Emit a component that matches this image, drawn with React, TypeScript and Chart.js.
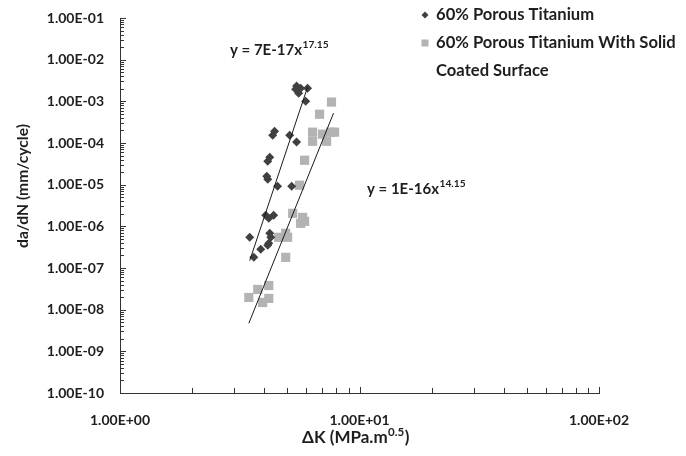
import React, { useEffect, useRef } from "react";
import { Chart, registerables } from "chart.js";

Chart.register(...registerables);

// ---- data ----
const darkX = [5.41, 5.57, 5.68, 5.46, 6.07, 5.96, 4.42, 4.34, 5.11, 5.46, 4.22, 4.14, 4.10, 4.14, 4.55, 5.21, 4.06, 4.18, 4.38, 3.48, 4.22, 4.26, 4.18, 4.14, 3.87, 3.62];
const darkY = [1.96e-3, 1.57e-3, 2.07e-3, 2.32e-3, 2.07e-3, 1.01e-3, 1.92e-4, 1.54e-4, 1.54e-4, 1.05e-4, 4.56e-5, 3.65e-5, 1.59e-5, 1.35e-5, 9.2e-6, 9.2e-6, 1.84e-6, 1.56e-6, 1.84e-6, 5.45e-7, 6.8e-7, 5.45e-7, 3.9e-7, 3.5e-7, 2.8e-7, 1.8e-7];

const lightX = [7.64, 6.81, 6.37, 6.37, 7.01, 7.57, 7.87, 7.29, 5.90, 5.62, 5.26, 5.79, 5.90, 5.68, 4.60, 4.92, 5.01, 4.92, 4.18, 3.76, 3.45, 3.94, 4.18];
const lightY = [9.6e-4, 4.9e-4, 1.82e-4, 1.1e-4, 1.63e-4, 1.82e-4, 1.82e-4, 1.1e-4, 3.86e-5, 9.7e-6, 2.05e-6, 1.64e-6, 1.32e-6, 1.18e-6, 5.45e-7, 6.8e-7, 5.45e-7, 1.8e-7, 3.8e-8, 3.06e-8, 1.96e-8, 1.49e-8, 1.86e-8];

const darkTrendX = [3.48, 6.07];
const darkTrendY = [1.5e-7, 2.2e-3];
const lightTrendX = [3.45, 7.79];
const lightTrendY = [4.7e-9, 5.2e-4];

const xTickValues = [1, 10, 100];
const xTickLabels = ["1.00E+00", "1.00E+01", "1.00E+02"];
const yTickValues = [1e-10, 1e-9, 1e-8, 1e-7, 1e-6, 1e-5, 1e-4, 1e-3, 1e-2, 1e-1];
const yTickLabels = ["1.00E-10", "1.00E-09", "1.00E-08", "1.00E-07", "1.00E-06", "1.00E-05", "1.00E-04", "1.00E-03", "1.00E-02", "1.00E-01"];

const seriesNames = ["60% Porous Titanium", "60% Porous Titanium With Solid", "Coated Surface"];
const darkEq = ["y = 7E-17x", "17.15"];
const lightEq = ["y = 1E-16x", "14.15"];
const xTitle = ["ΔK (MPa.m", "0.5", ")"];
const yTitle = "da/dN (mm/cycle)";

const DARK = "#404040";
const LIGHT = "#b3b3b3";
const TEXT = "#1e1e1e";
const FONT = "Lato, 'Open Sans', sans-serif";

const zip = (xs: number[], ys: number[]) => xs.map((x, i) => ({ x, y: ys[i] }));

const decorPlugin = {
  id: "decor",
  afterDraw(chart: any) {
    const ctx = chart.ctx as CanvasRenderingContext2D;
    const xs = chart.scales.x;
    const ys = chart.scales.y;
    const { left, bottom } = chart.chartArea;
    ctx.save();
    ctx.strokeStyle = "#333";
    ctx.lineWidth = 1;
    // x inside ticks
    for (let d = 1; d <= 10; d *= 10) {
      for (let m = 2; m <= 10; m++) {
        const px = Math.round(xs.getPixelForValue(m * d)) + 0.5;
        const len = m === 10 ? 6 : 5;
        ctx.beginPath();
        ctx.moveTo(px, bottom);
        ctx.lineTo(px, bottom - len);
        ctx.stroke();
      }
    }
    // y inside ticks
    for (let e = -10; e < -1; e++) {
      const d = Math.pow(10, e);
      for (let m = 2; m <= 10; m++) {
        const py = Math.round(ys.getPixelForValue(m * d)) + 0.5;
        const len = m === 10 ? 6 : 4;
        ctx.beginPath();
        ctx.moveTo(left, py);
        ctx.lineTo(left + len, py);
        ctx.stroke();
      }
    }

    ctx.fillStyle = TEXT;
    ctx.textBaseline = "middle";
    ctx.textAlign = "left";
    const measureSup = (parts: string[], size: number) => {
      ctx.font = `bold ${size}px ${FONT}`;
      const a = ctx.measureText(parts[0]).width + (parts[2] ? ctx.measureText(parts[2]).width : 0);
      ctx.font = `bold ${size * 0.68}px ${FONT}`;
      return a + ctx.measureText(parts[1]).width + 1.5;
    };
    const fitSup = (parts: string[], target: number) => target / measureSup(parts, 100) * 100;
    const drawSup = (parts: string[], x: number, y: number, size: number) => {
      ctx.font = `bold ${size}px ${FONT}`;
      ctx.fillText(parts[0], x, y);
      const w = ctx.measureText(parts[0]).width;
      ctx.font = `bold ${size * 0.68}px ${FONT}`;
      ctx.fillText(parts[1], x + w + 0.5, y - size * 0.32);
      const w2 = ctx.measureText(parts[1]).width;
      if (parts[2]) {
        ctx.font = `bold ${size}px ${FONT}`;
        ctx.fillText(parts[2], x + w + w2 + 1, y);
      }
    };
    // equations (sized to span the width they take in the reference)
    const eqSize = Math.min(15, fitSup(darkEq, 102));
    drawSup(darkEq, 230, 50, eqSize);
    drawSup(lightEq, 367, 189, eqSize);

    // x title centred
    const xs2 = Math.min(17, fitSup(xTitle, 118));
    const tw = measureSup(xTitle, xs2);
    drawSup(xTitle, 356 - tw / 2, 438, xs2);

    // y title
    ctx.save();
    ctx.translate(23, 186);
    ctx.rotate(-Math.PI / 2);
    ctx.textAlign = "center";
    ctx.font = `bold 100px ${FONT}`;
    const ySize = Math.min(16, 124 / ctx.measureText(yTitle).width * 100);
    ctx.font = `bold ${ySize}px ${FONT}`;
    ctx.fillText(yTitle, 0, 0);
    ctx.restore();

    // legend
    ctx.fillStyle = DARK;
    ctx.beginPath();
    ctx.moveTo(425, 11.5);
    ctx.lineTo(428.5, 15);
    ctx.lineTo(425, 18.5);
    ctx.lineTo(421.5, 15);
    ctx.closePath();
    ctx.fill();
    ctx.fillStyle = LIGHT;
    ctx.fillRect(421.5, 39.5, 7, 7);
    ctx.fillStyle = TEXT;
    ctx.font = `bold 100px ${FONT}`;
    const lSize = Math.min(17, 240 / ctx.measureText(seriesNames[1]).width * 100);
    ctx.font = `bold ${lSize}px ${FONT}`;
    ctx.fillText(seriesNames[0], 436, 15);
    ctx.fillText(seriesNames[1], 436, 43);
    ctx.fillText(seriesNames[2], 436, 71);
    ctx.restore();
  },
};

export default function App() {
  const ref = useRef<HTMLCanvasElement | null>(null);
  useEffect(() => {
    document.body.style.margin = "0";
    const canvas = ref.current!;
    const chart = new Chart(canvas, {
      type: "scatter",
      data: {
        datasets: [
          {
            type: "line",
            data: zip(darkTrendX, darkTrendY),
            borderColor: "#1a1a1a",
            borderWidth: 1,
            pointRadius: 0,
            fill: false,
          } as any,
          {
            type: "line",
            data: zip(lightTrendX, lightTrendY),
            borderColor: "#1a1a1a",
            borderWidth: 1,
            pointRadius: 0,
            fill: false,
          } as any,
          {
            label: seriesNames[0],
            data: zip(darkX, darkY),
            pointStyle: "rectRot",
            pointRadius: 4.5,
            backgroundColor: DARK,
            borderColor: DARK,
            borderWidth: 0,
          },
          {
            label: seriesNames[1] + " " + seriesNames[2],
            data: zip(lightX, lightY),
            pointStyle: "rect",
            pointRadius: 6.5,
            backgroundColor: LIGHT,
            borderColor: LIGHT,
            borderWidth: 0,
          },
        ],
      },
      options: {
        animation: false,
        responsive: true,
        maintainAspectRatio: false,
        events: [],
        layout: { padding: { left: 0, right: 87, top: 18, bottom: 0 } },
        plugins: { legend: { display: false }, tooltip: { enabled: false } },
        scales: {
          x: {
            type: "logarithmic",
            min: 1,
            max: 100,
            grid: { display: false },
            border: { display: true, color: "#333", width: 1 },
            afterBuildTicks: (s: any) => {
              s.ticks = xTickValues.map((v) => ({ value: v }));
            },
            afterFit: (s: any) => {
              s.height = 63;
            },
            ticks: {
              autoSkip: false,
              maxRotation: 0,
              padding: 11,
              color: TEXT,
              font: { family: FONT, size: 14, weight: "bold" },
              callback: (_v: any, i: number) => xTickLabels[i],
            },
          },
          y: {
            type: "logarithmic",
            min: 1e-10,
            max: 1e-1,
            grid: { display: false },
            border: { display: true, color: "#333", width: 1 },
            afterBuildTicks: (s: any) => {
              s.ticks = yTickValues.map((v) => ({ value: v }));
            },
            afterFit: (s: any) => {
              s.width = 120;
            },
            ticks: {
              autoSkip: false,
              padding: 8,
              color: TEXT,
              font: { family: FONT, size: 14, weight: "bold" },
              callback: (_v: any, i: number) => yTickLabels[i],
            },
          },
        },
      },
      plugins: [decorPlugin],
    });
    return () => chart.destroy();
  }, []);
  return (
    <div style={{ width: 686, height: 456, position: "relative", background: "#fff" }}>
      <canvas ref={ref} />
    </div>
  );
}
